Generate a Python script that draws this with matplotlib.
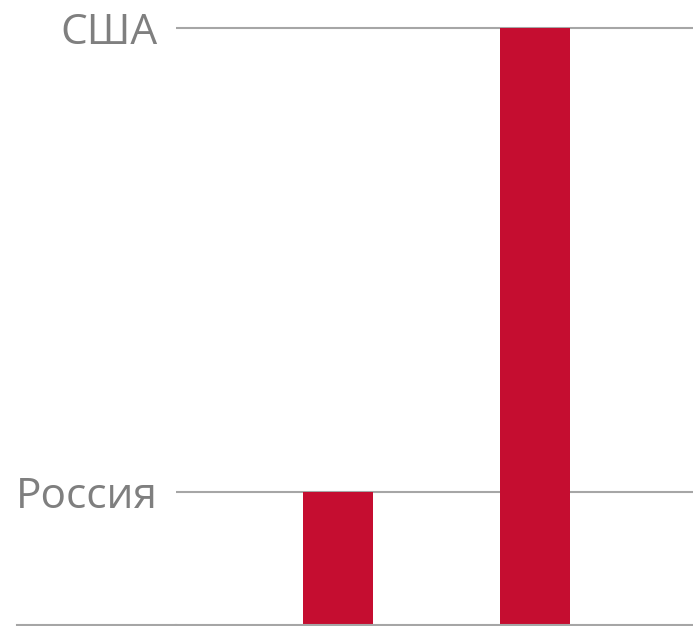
import matplotlib
matplotlib.use("Agg")
from matplotlib import pyplot as plt
from matplotlib.lines import Line2D

countries = ["Россия", "США"]
values = [1.0, 4.49]

bar_color = "#C50D30"
grid_color = "#a6a6a6"
text_color = "#7f7f7f"

W, H = 693, 626
fig = plt.figure(figsize=(W / 100, H / 100), dpi=100)
ax = fig.add_axes([176 / W, 1 / H, 1 - 176 / W, 1 - 1 / H])

x = list(range(len(countries)))
ax.bar(x, values, width=70 / 197, color=bar_color, zorder=2)

ax.set_xlim(-162 / 197, 1 + 158 / 197)
ax.set_ylim(0, 625 / 133)

ax.set_yticks(values)
ax.set_yticklabels(countries, fontsize=30.5, color=text_color, family="Open Sans")
ax.tick_params(axis="y", length=0, pad=13)
ax.set_xticks([])
ax.yaxis.grid(True, color=grid_color, linewidth=1.5, zorder=1)

for side in ["top", "right", "left"]:
    ax.spines[side].set_visible(False)
ax.spines["bottom"].set_color(grid_color)
ax.spines["bottom"].set_linewidth(1.5)

# baseline runs on under the labels
fig.add_artist(Line2D([17 / W, 176 / W], [1 / H, 1 / H], color=grid_color, linewidth=1.5))

fig.savefig("out.png", dpi=100)
